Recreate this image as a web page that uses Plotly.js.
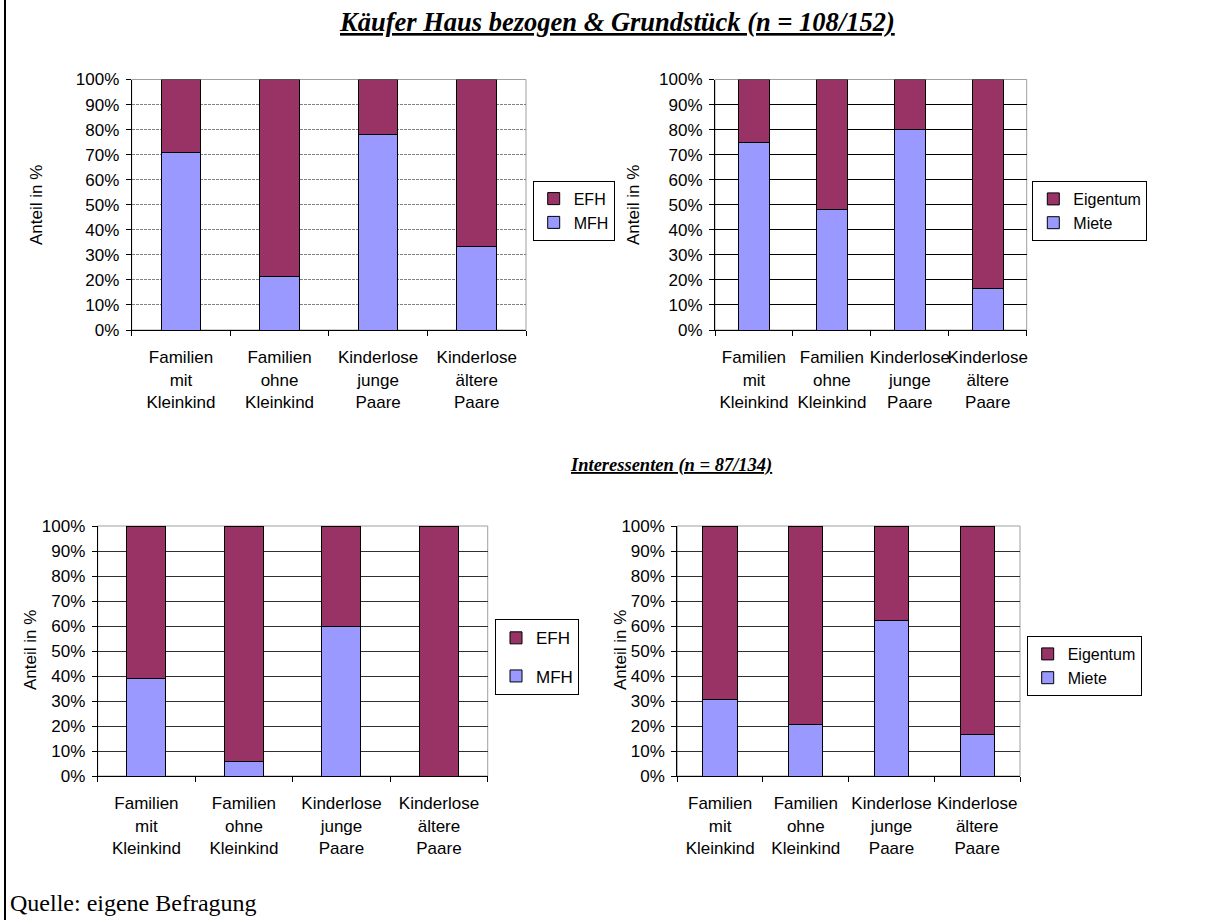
<!DOCTYPE html>
<html>
<head>
<meta charset="utf-8">
<script src="https://cdn.plot.ly/plotly-3.0.1.min.js"></script>
<style>html,body{margin:0;padding:0;background:#fff;}#chart{width:1227px;height:920px;}</style>
</head>
<body>
<div id="chart"></div>
<script>
// ---- data ----
const categories = ['Familien<br>mit<br>Kleinkind', 'Familien<br>ohne<br>Kleinkind', 'Kinderlose<br>junge<br>Paare', 'Kinderlose<br>ältere<br>Paare'];
const yTicks = [0, 10, 20, 30, 40, 50, 60, 70, 80, 90, 100];
const yTickLabels = ['0%', '10%', '20%', '30%', '40%', '50%', '60%', '70%', '80%', '90%', '100%'];

const kaeuferMFH = [70.7, 21.5, 77.9, 33.3];
const kaeuferEFH = [29.3, 78.5, 22.1, 66.7];
const kaeuferMiete = [75.0, 48.3, 80.0, 16.7];
const kaeuferEigentum = [25.0, 51.7, 20.0, 83.3];

const interMFH = [39.2, 5.9, 59.7, 0];
const interEFH = [60.8, 94.1, 40.3, 100];
const interMiete = [30.8, 20.6, 62.3, 16.6];
const interEigentum = [69.2, 79.4, 37.7, 83.4];

const title1 = 'Käufer Haus bezogen & Grundstück (n = 108/152)';
const title2 = 'Interessenten (n = 87/134)';
const yTitle = 'Anteil in %';
const source = 'Quelle: eigene Befragung';

// ---- style ----
const C_DARK = '#993366';
const C_LIGHT = '#9999FF';
const W = 1227, H = 920;
const px = v => v / W;
const py = v => 1 - v / H;
const SANS = 'Liberation Sans, Arial, sans-serif';
const SERIF = 'Liberation Serif, Times New Roman, serif';

function bar(name, y, color, xa, ya, legend, rank) {
  return {
    type: 'bar', name: name, x: categories, y: y,
    xaxis: xa, yaxis: ya, legend: legend, legendgroup: legend + name, legendrank: rank,
    marker: {color: color, line: {color: '#000', width: 1}},
    width: 0.4, hoverinfo: 'skip'
  };
}

const traces = [
  bar('MFH', kaeuferMFH, C_LIGHT, 'x', 'y', 'legend', 2),
  bar('EFH', kaeuferEFH, C_DARK, 'x', 'y', 'legend', 1),
  bar('Miete', kaeuferMiete, C_LIGHT, 'x2', 'y2', 'legend2', 2),
  bar('Eigentum', kaeuferEigentum, C_DARK, 'x2', 'y2', 'legend2', 1),
  bar('MFH', interMFH, C_LIGHT, 'x3', 'y3', 'legend3', 2),
  bar('EFH', interEFH, C_DARK, 'x3', 'y3', 'legend3', 1),
  bar('Miete', interMiete, C_LIGHT, 'x4', 'y4', 'legend4', 2),
  bar('Eigentum', interEigentum, C_DARK, 'x4', 'y4', 'legend4', 1)
];

const tickFont = {family: SANS, size: 17, color: '#000'};

function xax(domain, anchor) {
  return {
    domain: domain, anchor: anchor, type: 'category',
    showline: true, linecolor: '#000', linewidth: 1,
    ticks: 'outside', tickson: 'boundaries', ticklen: 5, tickcolor: '#000',
    tickfont: tickFont, tickangle: 0, showgrid: false, zeroline: false, fixedrange: true,
    ticklabelstandoff: 12
  };
}
function yax(domain, anchor, gridcolor, griddash) {
  return {
    domain: domain, anchor: anchor, range: [0, 100],
    tickmode: 'array', tickvals: yTicks, ticktext: yTickLabels,
    showline: true, linecolor: '#000', linewidth: 1,
    ticks: 'outside', ticklen: 5, tickcolor: '#000',
    tickfont: tickFont, showgrid: true, gridcolor: gridcolor, griddash: griddash, gridwidth: 1,
    zeroline: false, fixedrange: true, ticklabelstandoff: 3
  };
}

const topY = [py(330), py(79.5)];
const botY = [py(776), py(526)];

function legendCfg(x, y, gap, size) {
  return {
    x: x, y: y, xanchor: 'left', yanchor: 'top', xref: 'paper', yref: 'paper',
    bordercolor: '#000', borderwidth: 1, bgcolor: '#fff',
    font: {family: SANS, size: size, color: '#000'},
    traceorder: 'grouped', tracegroupgap: gap, itemwidth: 30
  };
}

function frame(xa, ya) {
  return {type: 'rect', xref: xa + ' domain', yref: ya + ' domain', x0: 0, x1: 1, y0: 0, y1: 1,
    line: {color: '#A0A0A0', width: 1}, layer: 'below'};
}

function yTitleAnn(x, y) {
  return {text: yTitle, xref: 'paper', yref: 'paper', x: px(x), y: py(y), textangle: -90,
    showarrow: false, font: {family: SANS, size: 17, color: '#000'},
    xanchor: 'center', yanchor: 'middle'};
}

const layout = {
  width: W, height: H, margin: {l: 0, r: 0, t: 0, b: 0},
  paper_bgcolor: '#fff', plot_bgcolor: 'rgba(0,0,0,0)',
  barmode: 'stack', bargap: 0.6, showlegend: true,
  xaxis: xax([px(131.7), px(526)], 'y'),
  yaxis: yax(topY, 'x', '#808080', '3px,1px'),
  xaxis2: xax([px(715), px(1026.7)], 'y2'),
  yaxis2: yax(topY, 'x2', '#000000', 'solid'),
  xaxis3: xax([px(97.7), px(487.7)], 'y3'),
  yaxis3: yax(botY, 'x3', '#303030', 'solid'),
  xaxis4: xax([px(677.3), px(1020)], 'y4'),
  yaxis4: yax(botY, 'x4', '#303030', 'solid'),
  legend: legendCfg(px(532.7), py(180.7), 0, 16),
  legend2: legendCfg(px(1032.3), py(181), 0, 16),
  legend3: legendCfg(px(495), py(619.3), 13, 17),
  legend4: legendCfg(px(1026.7), py(636), 0, 16),
  shapes: [
    frame('x', 'y'), frame('x2', 'y2'), frame('x3', 'y3'), frame('x4', 'y4'),
    {type: 'line', xref: 'paper', yref: 'paper', x0: px(5), x1: px(5), y0: 0, y1: 1,
      line: {color: '#000', width: 2}}
  ],
  annotations: [
    {text: '<b><i><span style="text-decoration:underline">' + title1 + '</span></i></b>',
      xref: 'paper', yref: 'paper', x: px(617), y: py(22), showarrow: false,
      xanchor: 'center', yanchor: 'middle',
      font: {family: SERIF, size: 26.5, color: '#000'}},
    {text: '<b><i><span style="text-decoration:underline">' + title2 + '</span></i></b>',
      xref: 'paper', yref: 'paper', x: px(671), y: py(466), showarrow: false,
      xanchor: 'center', yanchor: 'middle',
      font: {family: SERIF, size: 18.5, color: '#000'}},
    yTitleAnn(36, 205), yTitleAnn(633, 205), yTitleAnn(30, 650), yTitleAnn(620, 650),
    {text: source, xref: 'paper', yref: 'paper', x: px(8), y: py(903), showarrow: false,
      xanchor: 'left', yanchor: 'middle',
      font: {family: SERIF, size: 24, color: '#000'}}
  ]
};

Plotly.newPlot('chart', traces, layout, {staticPlot: true, displayModeBar: false});
</script>
</body>
</html>
